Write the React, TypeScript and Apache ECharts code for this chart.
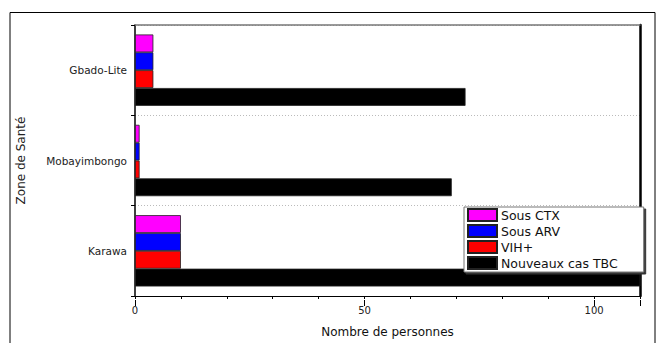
import React, { useEffect, useRef } from "react";
import * as echarts from "echarts";

const categories = ["Karawa", "Mobayimbongo", "Gbado-Lite"];
const seriesNames = ["Sous CTX", "Sous ARV", "VIH+", "Nouveaux cas TBC"];
const ctxValues = [10, 1, 4];
const arvValues = [10, 1, 4];
const vihValues = [10, 1, 4];
const tbcValues = [120, 69, 72];
const seriesColors = ["#ff00ff", "#0000ff", "#ff0000", "#000000"];
const xTickLabels = [0, 50, 100];

export default function App() {
  const ref = useRef<HTMLDivElement>(null);
  useEffect(() => {
    document.body.style.margin = "0";
    if (!ref.current) return;
    const chart = echarts.init(ref.current, undefined, { renderer: "svg" });
    const values = [ctxValues, arvValues, vihValues, tbcValues];
    const font = "Liberation Sans, Arial, sans-serif";
    const wide = "DejaVu Sans, sans-serif";
    const gridRect = { left: 135, top: 25, width: 505, height: 275 };
    chart.setOption({
      animation: false,
      backgroundColor: "#ffffff",
      textStyle: { fontFamily: font },
      graphic: [
        {
          type: "rect",
          shape: { x: 10, y: 12.5, width: 645, height: 340 },
          style: { fill: "none", stroke: "#000", lineWidth: 1 },
          silent: true,
          z: -1,
        },
      ],
      grid: [
        { ...gridRect, containLabel: false },
        { ...gridRect, containLabel: false },
      ],
      legend: {
        data: seriesNames,
        orient: "vertical",
        left: 464,
        top: 207,
        itemWidth: 29,
        itemHeight: 12,
        itemGap: 2,
        padding: [1, 26, 2, 3],
        icon: "rect",
        backgroundColor: "#fff",
        borderColor: "#777",
        borderWidth: 1,
        shadowColor: "#333",
        shadowOffsetX: 2,
        shadowOffsetY: 2,
        shadowBlur: 0,
        textStyle: { fontSize: 12.5, color: "#111", fontFamily: wide, padding: [0, 0, 0, -1] },
      },
      xAxis: [
        {
          type: "value",
          gridIndex: 0,
          position: "bottom",
          min: 0,
          max: 110,
          interval: 10,
          axisLine: { show: true, onZero: false, lineStyle: { color: "#000", width: 1 } },
          axisTick: { show: true, length: 3, lineStyle: { color: "#000" } },
          axisLabel: {
            margin: 9,
            fontSize: 10,
            color: "#222",
            fontFamily: wide,
            formatter: (v: number) => (xTickLabels.includes(v) ? String(v) : ""),
          },
          splitLine: { show: false },
          name: "Nombre de personnes",
          nameLocation: "middle",
          nameGap: 30,
          nameTextStyle: { fontSize: 12, color: "#111", fontFamily: wide },
        },
        {
          type: "value",
          gridIndex: 0,
          position: "top",
          min: 0,
          max: 110,
          axisLine: { show: true, onZero: false, lineStyle: { color: "#777", width: 1.5 } },
          axisTick: { show: false },
          axisLabel: { show: false },
          splitLine: { show: false },
        },
        {
          type: "value",
          gridIndex: 1,
          position: "bottom",
          min: 0,
          max: 110,
          interval: 50,
          axisLine: { show: false },
          axisTick: { show: true, length: 6, lineStyle: { color: "#000" } },
          axisLabel: { show: false },
          splitLine: { show: false },
        },
      ],
      yAxis: [
        {
          type: "category",
          gridIndex: 0,
          position: "left",
          data: categories,
          axisLine: { show: true, onZero: false, lineStyle: { color: "#000", width: 1.5 } },
          axisTick: { show: true, length: 4, lineStyle: { color: "#000" } },
          axisLabel: { fontSize: 10.5, color: "#222", margin: 8, fontFamily: wide },
          splitLine: { show: true, lineStyle: { color: "#bbb", type: [1, 2] } },
          name: "Zone de Santé",
          nameLocation: "middle",
          nameGap: 108,
          nameRotate: 90,
          nameTextStyle: { fontSize: 12, color: "#222", fontFamily: wide },
        },
        {
          type: "category",
          gridIndex: 0,
          position: "right",
          data: categories,
          axisLine: { show: true, onZero: false, lineStyle: { color: "#000", width: 2.5 } },
          axisTick: { show: false },
          axisLabel: { show: false },
          splitLine: { show: false },
        },
        {
          type: "category",
          gridIndex: 1,
          data: categories,
          show: false,
        },
      ],
      series: seriesNames.map((name, i) => ({
        name,
        type: "bar",
        xAxisIndex: 0,
        yAxisIndex: 0,
        data: values[i],
        barGap: "0%",
        barCategoryGap: "21%",
        clip: true,
        itemStyle: { color: seriesColors[i], borderColor: "#222", borderWidth: 0.8 },
      })),
    });
    return () => chart.dispose();
  }, []);
  return <div ref={ref} style={{ width: 661, height: 343 }} />;
}
